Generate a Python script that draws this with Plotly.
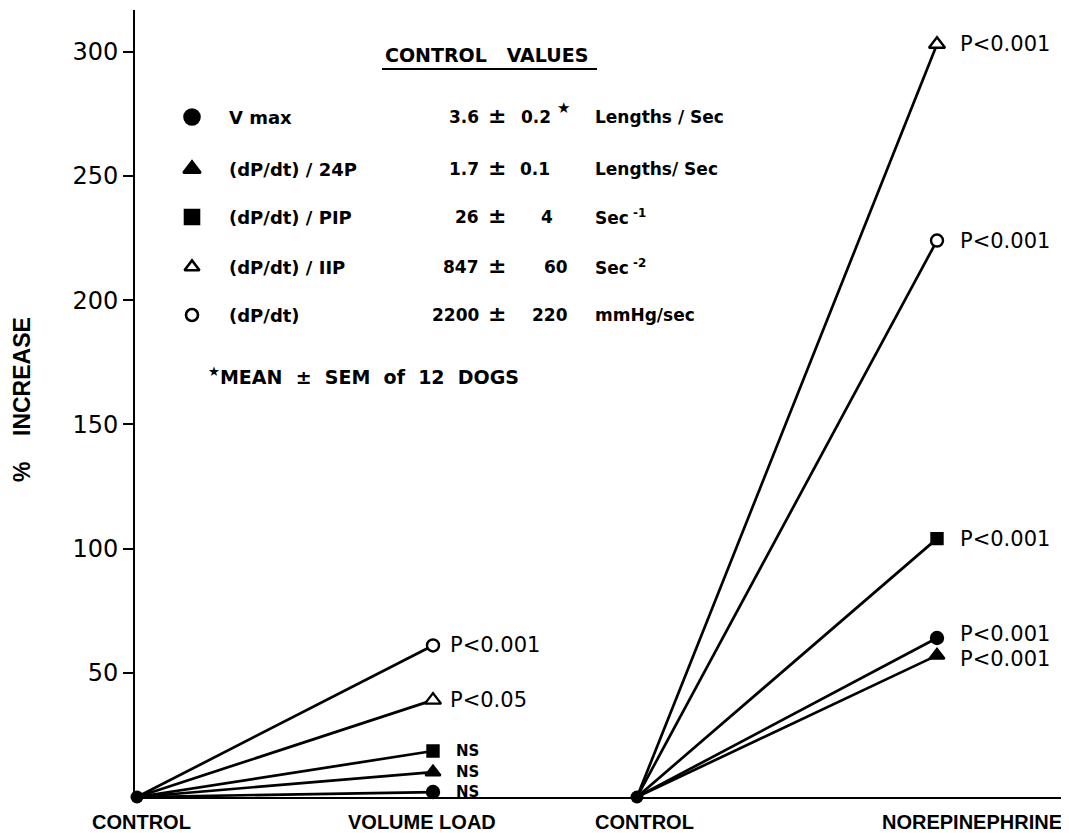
import plotly.graph_objects as go

# ---------------- data ----------------
categories = ["CONTROL", "VOLUME LOAD", "CONTROL", "NOREPINEPHRINE"]
cat_x = [0.0, 2.96, 5.0, 8.0]          # horizontal position of each condition
label_x = [0.04, 2.85, 5.07, 8.35]     # where the condition labels are centred

series_names = ["V max", "(dP/dt) / 24P", "(dP/dt) / PIP", "(dP/dt) / IIP", "(dP/dt)"]
control_pct = [0, 0, 0, 0, 0]
volume_load_pct = [2, 10, 18.5, 39, 61]
norepi_pct = [64, 57, 104, 303, 224]
volume_load_sig = ["NS", "NS", "NS", "P<0.05", "P<0.001"]
norepi_sig = ["P<0.001", "P<0.001", "P<0.001", "P<0.001", "P<0.001"]

ctrl_mean = ["3.6", "1.7", "26", "847", "2200"]
ctrl_sem = ["0.2", "0.1", "4", "60", "220"]
ctrl_units = ["Lengths / Sec", "Lengths/ Sec", "Sec<sup> -1</sup>", "Sec<sup> -2</sup>", "mmHg/sec"]

y_ticks = [50, 100, 150, 200, 250, 300]

# ---------------- styles ----------------
symbols = ["circle", "triangle-up", "square", "triangle-up", "circle"]
fills = ["#000000", "#000000", "#000000", "#ffffff", "#ffffff"]
sizes = [12, 13, 11, 14, 12]
legend_sizes = [15, 15, 14, 13, 12]
ne_label_shift = [4, -4, 0, 0, 0]
vl_label_xshift = [21, 21, 21, 15, 15]
sem_right_px = [553, 552, 555, 570, 570]
row_y = [117, 169, 217, 267, 315]

# screen geometry (page body has an 8 px margin)
VW, VH = 1069, 833
OFF = 8
SL, SR, ST, SB = 135, 1067, 10, 797      # plot area on screen
FW, FH = VW - OFF, VH - OFF


def px(xp):
    return (xp - SL) / (SR - SL)


def py(yp):
    return (SB - yp) / (SB - ST)


fig = go.Figure()

# connecting lines
for i, name in enumerate(series_names):
    fig.add_trace(go.Scatter(
        x=[cat_x[0], cat_x[1], None, cat_x[2], cat_x[3]],
        y=[control_pct[i], volume_load_pct[i], None, control_pct[i], norepi_pct[i]],
        mode="lines", line=dict(color="#000000", width=2.7),
        cliponaxis=False, showlegend=False, hoverinfo="skip",
    ))

# control points
fig.add_trace(go.Scatter(
    x=[cat_x[0], cat_x[2]], y=[control_pct[0], control_pct[0]],
    mode="markers", opacity=1,
    marker=dict(symbol="circle", size=13, color="#000000", opacity=1,
                line=dict(width=0)),
    cliponaxis=False, showlegend=False,
))

# end points
for i, name in enumerate(series_names):
    fig.add_trace(go.Scatter(
        x=[cat_x[1], cat_x[3]], y=[volume_load_pct[i], norepi_pct[i]],
        mode="markers", name=name, opacity=1,
        marker=dict(symbol=symbols[i], size=sizes[i], color=fills[i], opacity=1,
                    line=dict(color="#000000", width=2.4)),
        cliponaxis=False, showlegend=False,
    ))

# legend key markers on an overlay axis measured in screen pixels
for i, name in enumerate(series_names):
    fig.add_trace(go.Scatter(
        x=[192], y=[row_y[i]], xaxis="x2", yaxis="y2",
        mode="markers", opacity=1,
        marker=dict(symbol=symbols[i], size=legend_sizes[i], color=fills[i], opacity=1,
                    line=dict(color="#000000", width=2.6)),
        cliponaxis=False, showlegend=False, hoverinfo="skip",
    ))

annotations = []
# significance labels
for i in range(len(series_names)):
    ns = volume_load_sig[i] == "NS"
    annotations.append(dict(
        x=cat_x[1], y=volume_load_pct[i], xref="x", yref="y",
        text=volume_load_sig[i], showarrow=False, xanchor="left", yanchor="middle",
        xshift=vl_label_xshift[i],
        font=dict(family="DejaVu Sans", size=15 if ns else 21,
                  color="black", weight="bold" if ns else "normal"),
    ))
    annotations.append(dict(
        x=cat_x[3], y=norepi_pct[i], xref="x", yref="y",
        text=norepi_sig[i], showarrow=False, xanchor="left", yanchor="middle",
        xshift=21, yshift=ne_label_shift[i],
        font=dict(family="DejaVu Sans", size=21, color="black"),
    ))

# condition labels under the axis
for lx, lab in zip(label_x, categories):
    annotations.append(dict(
        x=lx, y=py(822), xref="x", yref="paper", text=lab, showarrow=False,
        xanchor="center", yanchor="middle",
        font=dict(family="Liberation Sans", size=20, color="black", weight="bold"),
    ))

# legend block
bold = dict(family="DejaVu Sans", size=17, color="black", weight="bold")
bold_name = dict(family="DejaVu Sans", size=18, color="black", weight="bold")
annotations.append(dict(x=px(486), y=py(55), xref="paper", yref="paper",
                        text="CONTROL   VALUES", showarrow=False,
                        font=dict(family="DejaVu Sans", size=19, color="black", weight="bold"),
                        xanchor="center", yanchor="middle"))
for i in range(len(series_names)):
    yy = py(row_y[i])
    annotations.append(dict(x=px(227), y=yy, xref="paper", yref="paper",
                            text=series_names[i], showarrow=False, font=bold_name,
                            xanchor="left", yanchor="middle"))
    annotations.append(dict(x=px(481), y=yy, xref="paper", yref="paper",
                            text=ctrl_mean[i], showarrow=False, font=bold,
                            xanchor="right", yanchor="middle"))
    annotations.append(dict(x=px(497), y=yy, xref="paper", yref="paper",
                            text="±", showarrow=False,
                            font=dict(family="DejaVu Sans", size=22, color="black", weight="bold"),
                            xanchor="center", yanchor="middle", yshift=2))
    annotations.append(dict(x=px(sem_right_px[i]), y=yy, xref="paper", yref="paper",
                            text=ctrl_sem[i], showarrow=False, font=bold,
                            xanchor="right", yanchor="middle"))
    if i == 0:
        annotations.append(dict(x=px(555), y=yy, xref="paper", yref="paper",
                                text="★", showarrow=False,
                                font=dict(family="DejaVu Sans", size=15, color="black"),
                                xanchor="left", yanchor="middle", yshift=9))
    annotations.append(dict(x=px(593), y=yy, xref="paper", yref="paper",
                            text=ctrl_units[i], showarrow=False, font=bold,
                            xanchor="left", yanchor="middle"))

annotations.append(dict(x=px(206), y=py(376), xref="paper", yref="paper",
                        text="<sup>★</sup>MEAN  ±  SEM  of  12  DOGS", showarrow=False,
                        font=dict(family="DejaVu Sans", size=19, color="black", weight="bold"),
                        xanchor="left", yanchor="middle"))

# y-axis title
annotations.append(dict(x=px(22), y=py(400), xref="paper", yref="paper",
                        text="%    INCREASE", showarrow=False, textangle=-90,
                        font=dict(family="Liberation Sans", size=23, color="black", weight="bold"),
                        xanchor="center", yanchor="middle"))

fig.update_layout(
    width=FW, height=FH,
    margin=dict(l=SL - OFF, r=VW - SR, t=ST - OFF, b=VH - SB, pad=0),
    paper_bgcolor="white", plot_bgcolor="white",
    annotations=annotations,
    shapes=[dict(type="line", xref="paper", yref="paper",
                 x0=px(382), x1=px(597), y0=py(69), y1=py(69),
                 line=dict(color="black", width=2))],
    xaxis=dict(
        range=[-0.02, 9.30], showgrid=False, zeroline=False,
        showline=True, linecolor="black", linewidth=2,
        showticklabels=False, ticks="",
    ),
    yaxis=dict(
        range=[0, 316.8], showgrid=False, zeroline=False,
        showline=True, linecolor="black", linewidth=2,
        tickmode="array", tickvals=y_ticks, ticktext=[str(v) for v in y_ticks],
        ticks="outside", ticklen=10, tickwidth=2, tickcolor="black",
        tickfont=dict(family="DejaVu Sans", size=24, color="black"),
    ),
    xaxis2=dict(overlaying="x", range=[SL, SR], visible=False, fixedrange=True),
    yaxis2=dict(overlaying="y", range=[SB, ST], visible=False, fixedrange=True),
)

fig.write_html("out.html")
